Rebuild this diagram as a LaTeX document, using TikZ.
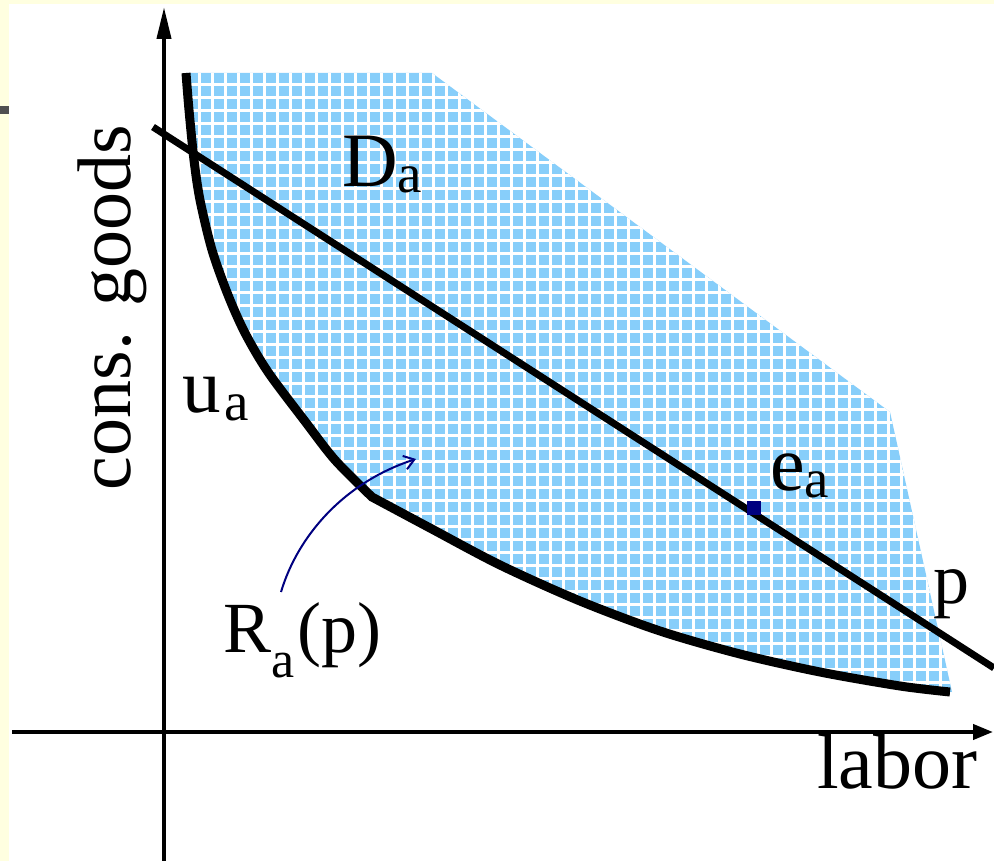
\documentclass[tikz,border=0pt]{standalone}
\usepackage{fontspec}
\setmainfont{Liberation Serif}
\usetikzlibrary{arrows.meta}
\definecolor{bgyellow}{RGB}{255,255,224}
\definecolor{skyfill}{RGB}{135,206,250}
\definecolor{navyc}{RGB}{0,0,128}
\definecolor{tabgray}{RGB}{80,80,80}
\newcommand\fs[1]{\fontsize{#1}{#1}\selectfont}
\begin{document}
\begin{tikzpicture}[x=1pt,y=-1pt,
  lbl/.style={inner sep=0pt, outer sep=0pt, anchor=base west, font=\fs{77}},
  budcurve/.style={line width=9pt},
  pline/.style={line width=7pt},
  axisline/.style={line width=4pt},
  gridline/.style={white, line width=3pt},
  pointer/.style={navyc, line width=2pt, -{Straight Barb[length=10pt,width=14pt]}}]
\useasboundingbox (0,0) rectangle (994,861);
\fill[bgyellow] (0,0) rectangle (994,861);
\fill[white] (9,4) rectangle (994,861);
\fill[tabgray] (0,106) rectangle (9,114);

% shaded region D_a
\fill[skyfill] (192,73) -- (432,73) -- (890,412) -- (952,692)
  -- plot[smooth] coordinates {(952,692) (900,686) (820,672) (740,654) (660,631) (580,601) (500,565) (430,528) (372,497)}
  -- plot[smooth] coordinates {(372,497) (335,460) (304,420) (268,372) (245,333) (228,295) (212,250) (200,200) (194,160) (189,110) (186,73)}
  -- cycle;
\begin{scope}
\clip (192,73) -- (432,73) -- (890,412) -- (952,692)
  -- plot[smooth] coordinates {(952,692) (900,686) (820,672) (740,654) (660,631) (580,601) (500,565) (430,528) (372,497)}
  -- plot[smooth] coordinates {(372,497) (335,460) (304,420) (268,372) (245,333) (228,295) (212,250) (200,200) (194,160) (189,110) (186,73)}
  -- cycle;
\foreach \gx in {186.5,199.5,...,960} \draw[gridline] (\gx,60) -- (\gx,700);
\foreach \gy in {71.5,84.5,...,700} \draw[gridline] (180,\gy) -- (960,\gy);
\end{scope}

% axes
\coordinate (ybot) at (164,861);
\coordinate (ytop) at (164,7);
\coordinate (xleft) at (12,732);
\coordinate (xright) at (993,732);
\draw[axisline, -{Triangle[length=32pt,width=14pt]}] (ybot) -- (ytop);
\draw[axisline, -{Triangle[length=20pt,width=15pt]}] (xleft) -- (xright);

% indifference curve u_a
\draw[budcurve] plot[smooth] coordinates {(186,73) (189,110) (194,160) (200,200) (212,250) (228,295) (245,333) (268,372) (304,420) (335,460) (372,497)}
  -- plot[smooth] coordinates {(372,497) (430,528) (500,565) (580,601) (660,631) (740,654) (820,672) (900,686) (950,692)};

% price line p
\coordinate (pstart) at (153,127);
\coordinate (pend) at (994,668);
\draw[pline] (pstart) -- (pend);

% endowment point
\node[fill=navyc, minimum size=14pt, inner sep=0pt] (dot) at (754,508) {};

% labels
\node[lbl] (Da) at (342,187) {D\raisebox{-6pt}{\fs{55}a}};
\node[lbl] (ua) at (182,412) {u\kern4pt\raisebox{-8pt}{\fs{55}a}};
\node[lbl, font=\fs{78}] (ea) at (770,490) {e\raisebox{-7pt}{\fs{55}a}};
\node[lbl, font=\fs{72}] (plab) at (933,603) {p};
\node[lbl, font=\fs{72}] (Ra) at (223,652) {R\raisebox{-25pt}{\fs{52}a}\kern3pt(p)};
\node[lbl, font=\fs{78}] (lab) at (817,788) {labor};
\node[lbl, font=\fs{76}, rotate=90] (cg) at (130,490) {cons. goods};

% pointer from R_a(p) into the region
\coordinate (rstart) at (281,592);
\coordinate (rend) at (416,459);
\draw[pointer] (rstart) .. controls (298,535) and (345,482) .. (rend);
\end{tikzpicture}
\end{document}
